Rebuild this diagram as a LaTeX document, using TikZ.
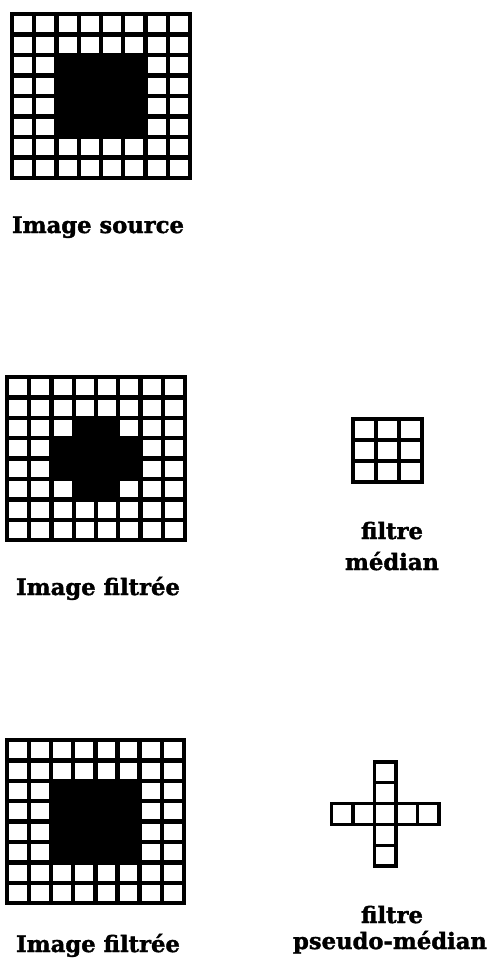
\documentclass[tikz,border=0pt]{standalone}
\usepackage{fontspec}
\setmainfont{DejaVu Serif}[BoldFeatures={FakeBold=1.6}]
\usetikzlibrary{positioning}

% 8x8 grid of cells: x0, y0, cell width, cell height
\newcommand{\pixgrid}[4]{%
  \foreach \k in {0,...,8} {%
    \draw[gridline] ({#1+\k*#3},#2) -- ++(0,{8*#4});
    \draw[gridline] (#1,{#2+\k*#4}) -- ++({8*#3},0);
  }%
}

\begin{document}
\begin{tikzpicture}[x=0.75pt, y=-0.75pt, gridline/.style={line width=3.2pt, line cap=rect}, maskline/.style={line width=2.4pt, line join=miter}, lbl/.style={font=\bfseries\fontsize{17}{20}\selectfont, anchor=base, inner sep=0pt}]
\useasboundingbox (0,0) rectangle (487,970);

% source image
\fill ({12+2*22.25},{14+2*20.5}) rectangle ++({4*22.25},{4*20.5});
\pixgrid{12}{14}{22.25}{20.5}
\node[lbl] (srclbl) at (98,233) {Image source};

% median filtered image
\fill ({7+3*22.25},{377+2*20.4}) rectangle ++({2*22.25},{4*20.4});
\fill ({7+2*22.25},{377+3*20.4}) rectangle ++({4*22.25},{2*20.4});
\pixgrid{7}{377}{22.25}{20.4}
\node[lbl] (medimglbl) at (98,595) {Image filtrée};

% 3x3 mask
\foreach \c in {0,1,2} \foreach \r in {0,1,2} \draw[maskline] ({353+\c*23},{419+\r*21}) rectangle ++(23,21);
\node[lbl] (medlbl) at (392,539) {filtre};
\node[lbl] (medlbl2) at (392,570) {médian};

% pseudo-median filtered image
\fill ({7+2*22.1},{740+2*20.4}) rectangle ++({4*22.1},{4*20.4});
\pixgrid{7}{740}{22.1}{20.4}
\node[lbl] (pmedimglbl) at (98,952) {Image filtrée};

% cross mask
\foreach \r in {0,...,4} \draw[maskline] (374.5,{762+\r*20.8}) rectangle ++(21.5,20.8);
\foreach \c in {0,...,4} \draw[maskline] ({331.5+\c*21.5},803.6) rectangle ++(21.5,20.8);
\node[lbl] (pmedlbl) at (392,923) {filtre};
\node[lbl] (pmedlbl2) at (390,949) {pseudo-médian};
\end{tikzpicture}
\end{document}
